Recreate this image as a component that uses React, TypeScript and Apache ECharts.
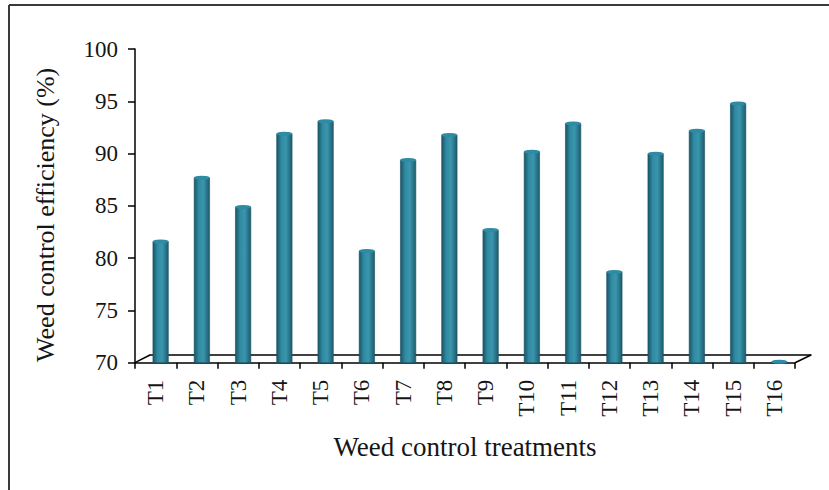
import React, { useEffect, useRef } from "react";
import * as echarts from "echarts";

const categories = ["T1", "T2", "T3", "T4", "T5", "T6", "T7", "T8", "T9", "T10", "T11", "T12", "T13", "T14", "T15", "T16"];
const efficiency = [81.6, 87.7, 84.9, 91.9, 93.1, 80.7, 89.4, 91.8, 82.7, 90.2, 92.9, 78.7, 90.0, 92.2, 94.8, 70.1];
const yTicks = { min: 70, max: 100, interval: 5 };
const xTitle = "Weed control treatments";
const yTitle = "Weed control efficiency (%)";

const FONT = "'Liberation Serif', 'Times New Roman', serif";
const TEXT = "#151515";

export default function App() {
  const ref = useRef<HTMLDivElement>(null);

  useEffect(() => {
    document.body.style.margin = "0";
    if (!ref.current) return;
    const chart = echarts.init(ref.current, undefined, { renderer: "svg" });

    const barGradient = new echarts.graphic.LinearGradient(0, 0, 1, 0, [
      { offset: 0, color: "#1b5566" },
      { offset: 0.3, color: "#2f8aa2" },
      { offset: 0.6, color: "#3a96ad" },
      { offset: 1, color: "#1d5b6d" },
    ]);

    const hiddenAxisX = {
      type: "category" as const,
      data: categories,
      show: false,
    };
    const hiddenAxisY = {
      type: "value" as const,
      min: yTicks.min,
      max: yTicks.max,
      interval: yTicks.interval,
      show: false,
    };

    chart.setOption({
      animation: false,
      backgroundColor: "#ffffff",
      grid: [
        { left: 135, right: 34, top: 49, bottom: 127.3 },
        { left: 140, right: 29, top: 49, bottom: 127.3 },
        { left: 150, right: 18, top: 41.5, bottom: 135 },
      ],
      xAxis: [
        {
          gridIndex: 0,
          type: "category",
          data: categories,
          name: xTitle,
          nameLocation: "middle",
          nameGap: 71,
          nameTextStyle: { fontFamily: FONT, fontSize: 27, color: TEXT },
          axisLine: { lineStyle: { color: "#000", width: 1.5 } },
          axisTick: { show: true, length: 6, lineStyle: { color: "#000", width: 1.5 } },
          axisLabel: {
            rotate: 90,
            margin: 17,
            interval: 0,
            fontFamily: FONT,
            fontSize: 23,
            color: TEXT,
          },
        },
        { ...hiddenAxisX, gridIndex: 1 },
        {
          gridIndex: 2,
          type: "category",
          data: categories,
          axisLine: { show: true, lineStyle: { color: "#000", width: 1.5 } },
          axisTick: { show: false },
          axisLabel: { show: false },
        },
      ],
      yAxis: [
        {
          gridIndex: 0,
          type: "value",
          min: yTicks.min,
          max: yTicks.max,
          interval: yTicks.interval,
          name: yTitle,
          nameLocation: "middle",
          nameGap: 77,
          nameTextStyle: { fontFamily: FONT, fontSize: 26, color: TEXT, padding: [0, 18, 0, 0] },
          axisLine: { show: true, lineStyle: { color: "#000", width: 1.5 } },
          axisTick: { show: true, length: 7, lineStyle: { color: "#000", width: 1.5 } },
          splitLine: { show: false },
          axisLabel: { margin: 17, fontFamily: FONT, fontSize: 23, color: TEXT },
        },
        { ...hiddenAxisY, gridIndex: 1 },
        { ...hiddenAxisY, gridIndex: 2 },
      ],
      graphic: [
        { type: "line", shape: { x1: 9, y1: 5, x2: 829, y2: 5 }, style: { stroke: "#3a3a3a", lineWidth: 2 } },
        { type: "line", shape: { x1: 9, y1: 5, x2: 9, y2: 490 }, style: { stroke: "#3a3a3a", lineWidth: 2 } },
        { type: "line", shape: { x1: 135, y1: 362.7, x2: 150, y2: 355 }, style: { stroke: "#000", lineWidth: 1.5 } },
        { type: "line", shape: { x1: 795, y1: 362.7, x2: 811, y2: 355 }, style: { stroke: "#000", lineWidth: 1.5 } },
      ],
      series: [
        {
          type: "line",
          xAxisIndex: 2,
          yAxisIndex: 2,
          data: [],
        },
        {
          type: "bar",
          xAxisIndex: 1,
          yAxisIndex: 1,
          data: efficiency,
          barWidth: 16,
          itemStyle: { color: barGradient, borderColor: "#17505f", borderWidth: 0.6 },
          z: 3,
        },
        {
          type: "pictorialBar",
          xAxisIndex: 1,
          yAxisIndex: 1,
          data: efficiency,
          symbol: "circle",
          symbolSize: [16, 4],
          symbolPosition: "end",
          symbolOffset: [0, "-50%"],
          itemStyle: { color: "#2f8ba3", borderColor: "#17505f", borderWidth: 0.6 },
          z: 4,
        },
      ],
    });

    return () => chart.dispose();
  }, []);

  return <div ref={ref} style={{ width: 829, height: 490 }} />;
}
